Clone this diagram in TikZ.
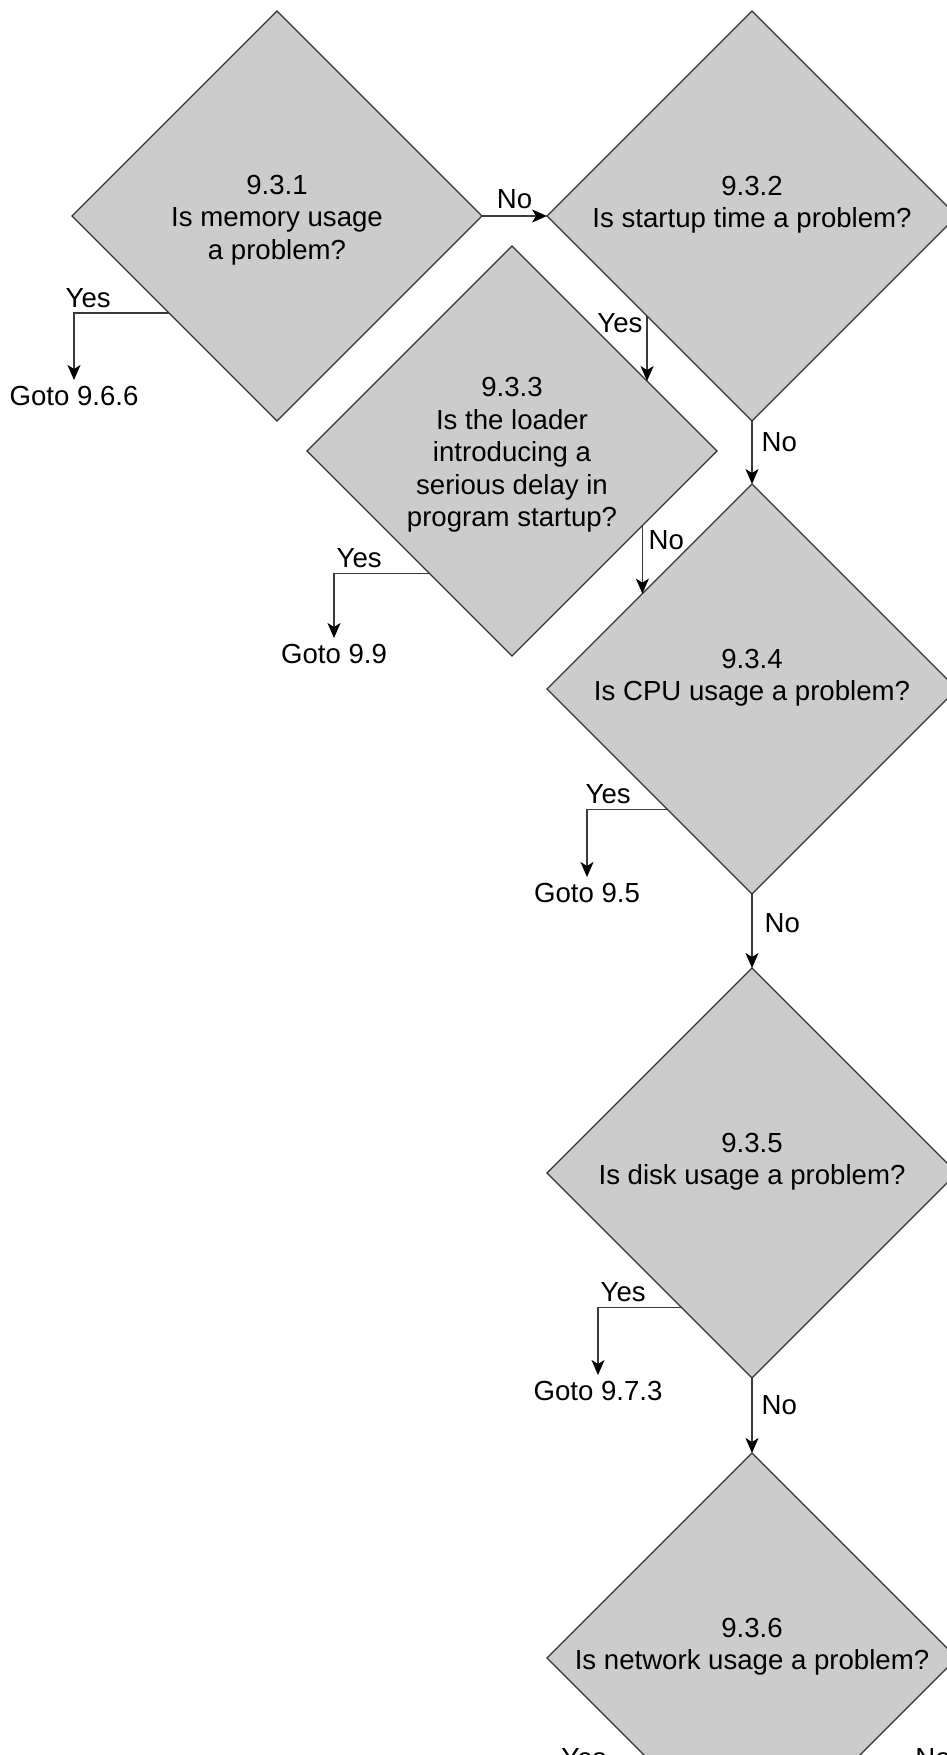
\documentclass[tikz,border=0pt]{standalone}
\usepackage{fontspec}
\setmainfont{Liberation Sans}
\usetikzlibrary{shapes.geometric,arrows.meta,calc}
\definecolor{dfill}{HTML}{CCCCCC}
\definecolor{dline}{HTML}{333333}
\definecolor{aline}{HTML}{3A3A3A}
\newcommand{\qfont}{\fontsize{13.8pt}{16.3pt}\selectfont}
\tikzset{
  dec/.style={shape=diamond, draw=dline, fill=dfill, line width=0.65pt,
    minimum width=205pt, minimum height=205pt, inner sep=0pt, outer sep=0pt},
  qtext/.style={align=center, font=\qfont, text=black, inner sep=0pt},
  qtextb/.style={qtext, yshift=5.7pt},
  qtextm/.style={qtext, yshift=-2pt},
  goto/.style={anchor=north, inner xsep=0pt, inner ysep=3pt, font=\qfont, text=black},
  lbl/.style={font=\qfont, inner sep=0pt, text=black},
  arr/.style={draw=aline, line width=0.65pt, -{Stealth[length=7.5pt,width=6.5pt,inset=2pt,color=black]}}
}
\begin{document}
\begin{tikzpicture}[x=0.5pt,y=-0.5pt]
\useasboundingbox (0,0) rectangle (947,1755);
\clip (0,0) rectangle (947,1755);
\fill[white] (0,0) rectangle (947,1755);

% decision diamonds
\node[dec, label={[qtextm]center:9.3.1\\Is memory usage\\a problem?}] (d1) at (277,216) {};
\node[dec, label={[qtextb]center:9.3.2\\Is startup time a problem?}] (d2) at (752,216) {};
\node[dec, label={[qtextm]center:9.3.3\\Is the loader\\introducing a\\serious delay in\\program startup?}] (d3) at (512,451) {};
\node[dec, label={[qtextb]center:9.3.4\\Is CPU usage a problem?}] (d4) at (752,689) {};
\node[dec, label={[qtextb]center:9.3.5\\Is disk usage a problem?}] (d5) at (752,1173) {};
\node[dec, label={[qtextb]center:9.3.6\\Is network usage a problem?}] (d6) at (752,1658) {};

% goto targets
\node[goto] (g1) at (74,380) {Goto 9.6.6};
\node[goto] (g3) at (334,638) {Goto 9.9};
\node[goto] (g4) at (587,877) {Goto 9.5};
\node[goto] (g5) at (598,1375) {Goto 9.7.3};

% 9.3.1 -> 9.3.2 (No)
\draw[arr] (d1.east) -- node[lbl, anchor=south, yshift=3.25pt]{No} (d2.west);

% 9.3.1 Yes
\draw[arr] ($(d1.west)!0.473!(d1.south)$) -| node[lbl, pos=0.5, anchor=south west, xshift=-4.5pt, yshift=2.5pt]{Yes} (g1.north);

% 9.3.2 -> 9.3.3 (Yes)
\coordinate (p23) at ($(d2.west)!0.488!(d2.south)$);
\coordinate (q23) at ($(p23)+(0,100)$);
\draw[arr] (p23) -- node[lbl, pos=0, anchor=north east, xshift=-2pt, yshift=1.5pt]{Yes} (intersection of d3.north--d3.east and p23--q23);

% 9.3.2 -> 9.3.4 (No)
\draw[arr] (d2.south) -- node[lbl, pos=0.33, anchor=west, xshift=4.5pt]{No} (d4.north);

% 9.3.3 -> 9.3.4 (No)
\coordinate (p34) at ($(d3.east)!0.364!(d3.south)$);
\coordinate (q34) at ($(p34)+(0,100)$);
\draw[arr] (p34) -- node[lbl, pos=0, anchor=north west, xshift=2.8pt, yshift=-2.2pt]{No} (intersection of d4.west--d4.north and p34--q34);

% 9.3.3 Yes
\draw[arr] ($(d3.west)!0.597!(d3.south)$) -| node[lbl, pos=0.5, anchor=south west, xshift=1pt, yshift=2.5pt]{Yes} (g3.north);

% 9.3.4 Yes
\draw[arr] ($(d4.west)!0.587!(d4.south)$) -| node[lbl, pos=0.5, anchor=south west, xshift=-1pt, yshift=2.5pt]{Yes} (g4.north);

% 9.3.4 -> 9.3.5 (No)
\draw[arr] (d4.south) -- node[lbl, pos=0.4, anchor=west, xshift=6pt]{No} (d5.north);

% 9.3.5 Yes
\draw[arr] ($(d5.west)!0.655!(d5.south)$) -| node[lbl, pos=0.5, anchor=south west, xshift=1pt, yshift=2.5pt]{Yes} (g5.north);

% 9.3.5 -> 9.3.6 (No)
\draw[arr] (d5.south) -- node[lbl, pos=0.36, anchor=west, xshift=4.5pt]{No} (d6.north);

% 9.3.6 branch labels (cut off at the bottom edge, as in the reference)
\node[lbl, anchor=base] (y6) at (584,1767) {Yes};
\node[lbl, anchor=base west] (n6) at (915,1767) {No};
\end{tikzpicture}
\end{document}
